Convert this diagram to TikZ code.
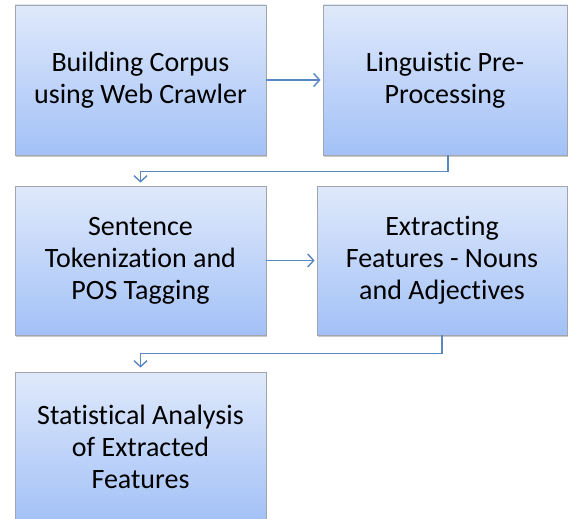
\documentclass[tikz,border=0pt]{standalone}
\usepackage{fontspec}
\setmainfont{Carlito}[Ligatures=NoCommon]
\usetikzlibrary{arrows.meta,shadows}
\definecolor{topc}{HTML}{DFE9FB}
\definecolor{botc}{HTML}{A3C1F7}
\definecolor{edgec}{HTML}{A2A6AC}
\definecolor{linec}{HTML}{5A88C4}
\tikzset{
  box/.style={rectangle, draw=edgec, line width=0.8pt, top color=topc, bottom color=botc,
    drop shadow={shadow xshift=1.2pt, shadow yshift=-1.5pt, opacity=0.35, fill=black!60},
    align=center, font=\fontsize{28}{32}\selectfont, inner sep=0pt},
  conn/.style={draw=linec, line width=1.3pt, -{Straight Barb[length=6pt,width=13pt,line width=1.4pt]}}
}
\begin{document}
\begin{tikzpicture}[x=1pt,y=-1pt]
\useasboundingbox (0,0) rectangle (568,519);
\begin{scope}
\clip (0,0) rectangle (568,519);
\node[box, minimum width=251pt, minimum height=150pt] (b1) at (140.5,80) {Building Corpus\\using Web Crawler};
\node[box, minimum width=244pt, minimum height=150pt] (b2) at (445,80) {Linguistic Pre-\\Processing};
\node[box, minimum width=251pt, minimum height=149pt] (b3) at (140.5,260.5) {Sentence\\Tokenization and\\POS Tagging};
\node[box, minimum width=250pt, minimum height=149pt] (b4) at (442,260.5) {Extracting\\Features - Nouns\\and Adjectives};
\node[box, minimum width=251pt, minimum height=150pt] (b5) at (140.5,447) {Statistical Analysis\\of Extracted\\Features};
\end{scope}
\draw[conn, shorten >=2pt] (b1.east) -- (b2.west);
\draw[conn, shorten >=2pt] (b3.east) -- (b4.west);
\draw[conn, shorten >=3pt] ([xshift=3pt]b2.south) -- ++(0,16) -| (b3.north);
\draw[conn, shorten >=4pt] (b4.south) -- ++(0,18) -| (b5.north);
\end{tikzpicture}
\end{document}
